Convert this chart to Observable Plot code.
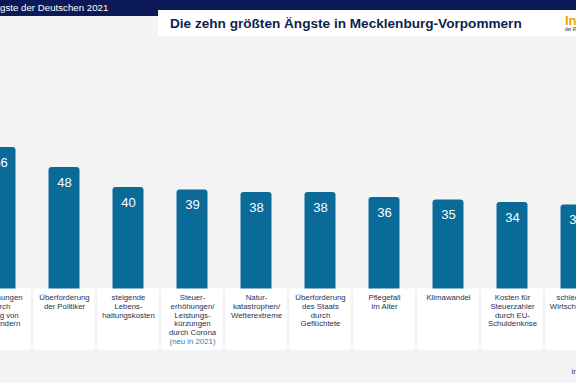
<!DOCTYPE html>
<html>
<head>
<meta charset="utf-8">
<script src="https://cdn.jsdelivr.net/npm/d3@7"></script>
<script src="https://cdn.jsdelivr.net/npm/@observablehq/plot@0.6"></script>
<style>
  html, body { margin: 0; padding: 0; }
  body { width: 576px; height: 383px; overflow: hidden; background: #f4f4f4; font-family: Arial, "Liberation Sans", sans-serif; position: relative; }
  #header { position: relative; height: 40px; }
  #band { position: absolute; left: 0; top: 0; width: 576px; height: 10px; background: #0b1a56; }
  #tab { position: absolute; left: 0; top: 0; width: 158px; height: 16px; background: #0b1a56; }
  #kicker { position: absolute; left: -29px; top: 2px; color: #fff; font-size: 9.7px; white-space: nowrap; }
  #titlebox { position: absolute; left: 158px; top: 10px; width: 418px; height: 26px; background: #fff; }
  #title { position: absolute; left: 12px; top: 6px; font-size: 13.6px; font-weight: bold; color: #0d1f4e; white-space: nowrap; }
  #logo { position: absolute; left: 407px; top: 3px; color: #f0a000; font-size: 13px; font-weight: bold; white-space: nowrap; }
  #logosub { position: absolute; left: 407px; top: 17px; color: #0d1f4e; font-size: 4.5px; white-space: nowrap; }
  #chart svg { display: block; }
</style>
</head>
<body>
<div id="header">
  <div id="band"></div>
  <div id="tab"></div>
  <div id="kicker">Die Ängste der Deutschen 2021</div>
  <div id="titlebox">
    <div id="title">Die zehn größten Ängste in Mecklenburg-Vorpommern</div>
    <div id="logo">Infocenter</div>
    <div id="logosub">der R+V Versicherung</div>
  </div>
</div>
<div id="chart"></div>
<script>
const categories = [
  "Spannungen durch Zuzug von Ausländern",
  "Überforderung der Politiker",
  "steigende Lebenshaltungskosten",
  "Steuererhöhungen/Leistungskürzungen durch Corona",
  "Naturkatastrophen/Wetterextreme",
  "Überforderung des Staats durch Geflüchtete",
  "Pflegefall im Alter",
  "Klimawandel",
  "Kosten für Steuerzahler durch EU-Schuldenkrise",
  "schlechtere Wirtschaftslage"
];
const values = [56, 48, 40, 39, 38, 38, 36, 35, 34, 33];
const labelLines = [
  ["Spannungen", "durch", "Zuzug von", "Ausländern"],
  ["Überforderung", "der Politiker"],
  ["steigende", "Lebens-", "haltungskosten"],
  ["Steuer-", "erhöhungen/", "Leistungs-", "kürzungen", "durch Corona"],
  ["Natur-", "katastrophen/", "Wetterextreme"],
  ["Überforderung", "des Staats", "durch", "Geflüchtete"],
  ["Pflegefall", "im Alter"],
  ["Klimawandel"],
  ["Kosten für", "Steuerzahler", "durch EU-", "Schuldenkrise"],
  ["schlechtere", "Wirtschaftslage"]
];
const notes = ["", "", "", "(neu in 2021)", "", "", "", "", "", ""];
const caption = "infocenter.ruv.de";

const data = categories.map((c, i) => ({
  cat: c,
  value: values[i],
  label: labelLines[i].join("\n"),
  note: notes[i] ? "\n".repeat(labelLines[i].length) + notes[i] : ""
}));

const barColor = "#0a6a98";
const plot = Plot.plot({
  width: 576,
  height: 343,
  marginTop: 0, marginRight: 0, marginBottom: 0, marginLeft: 0,
  style: { background: "transparent", fontFamily: "Arial, 'Liberation Sans', sans-serif" },
  x: { domain: categories, range: [-32, 608], padding: 0, axis: null },
  y: { domain: [0, 100], range: [247, -3], axis: null },
  marks: [
    Plot.barY(data, { x: "cat", y1: -3, y2: "value", fill: barColor, rx: 3, insetLeft: 16.5, insetRight: 16.5 }),
    Plot.barY(data, { x: "cat", y1: -0.6, y2: -25.2, fill: "#ffffff", insetLeft: 1.5, insetRight: 1.5 }),
    Plot.text(data, { x: "cat", y: "value", text: d => String(d.value), dy: 15, fill: "#ffffff", fontSize: 13 }),
    Plot.text(data, { x: "cat", y: -2.6, text: "label", lineAnchor: "top", lineHeight: 1.12, fontSize: 7.8, fill: "#263250" }),
    Plot.text(data.filter(d => d.note), { x: "cat", y: -2.6, text: "note", lineAnchor: "top", lineHeight: 1.12, fontSize: 7.8, fill: "#2f7db3" }),
    Plot.text([caption], { frameAnchor: "bottom-right", textAnchor: "start", dx: -5, dy: -10, fontSize: 8, fill: "#3a4050" })
  ]
});
document.getElementById("chart").appendChild(plot);
</script>
</body>
</html>
